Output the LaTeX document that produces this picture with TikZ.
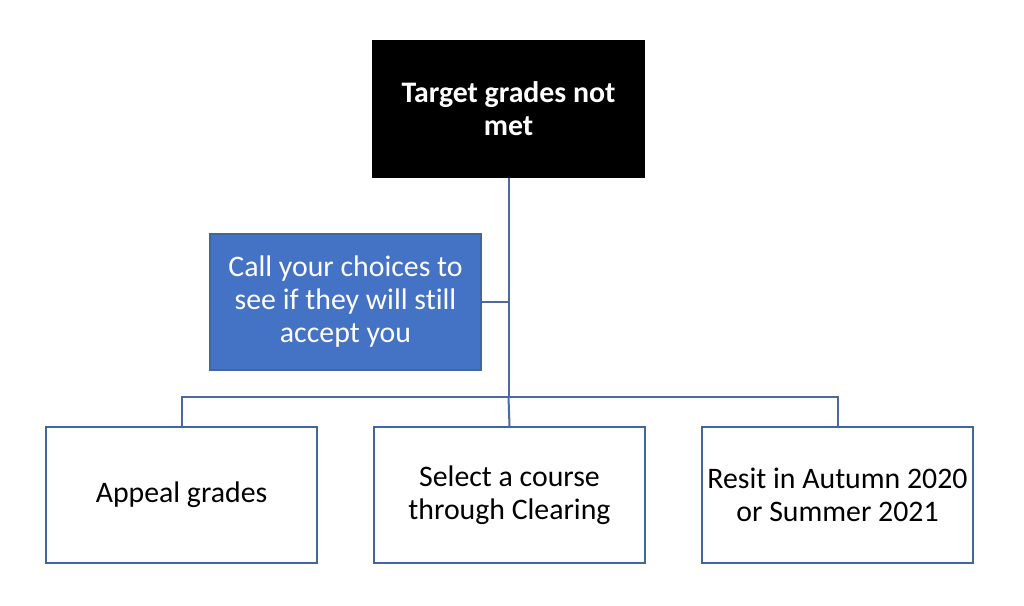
\documentclass[tikz,border=0pt]{standalone}
\usepackage{fontspec}
\setmainfont[Ligatures=NoCommon]{Carlito}
\definecolor{boxblue}{HTML}{4472C4}
\definecolor{edgeblue}{HTML}{41669E}
\definecolor{linkblue}{HTML}{4A6AA0}
\begin{document}
\begin{tikzpicture}[x=1pt,y=-1pt,
  basebox/.style={draw=edgeblue,line width=2pt,minimum width=271pt,minimum height=136pt,
    inner sep=0pt,align=center,font=\fontsize{29.8}{33}\selectfont,anchor=north west},
  topbox/.style={basebox,draw=black,fill=black,text=white,font=\fontsize{29.8}{33}\selectfont\bfseries},
  midbox/.style={basebox,fill=boxblue,text=white},
  leafbox/.style={basebox,fill=white,text=black},
  link/.style={draw=linkblue,line width=2pt}]
\useasboundingbox (0,0) rectangle (1024,605);
\fill[white] (0,0) rectangle (1024,605);
\node[topbox] (top) at (372,40) {Target grades not\\met};
\node[midbox] (mid) at (209,233) {Call your choices to\\see if they will still\\accept you};
\node[leafbox] (a) at (45,426) {Appeal grades};
\node[leafbox] (b) at (373,426) {Select a course\\through Clearing};
\node[leafbox] (c) at (701,426) {Resit in Autumn 2020\\or Summer 2021};
\coordinate (j) at (top.south |- 0,397);
\draw[link] (top.south) -- (j);
\draw[link] (mid.east) -- (mid.east -| top.south);
\draw[link] (a.north) |- (j) -| (c.north);
\draw[link] (j) -- (b.north);
\end{tikzpicture}
\end{document}
